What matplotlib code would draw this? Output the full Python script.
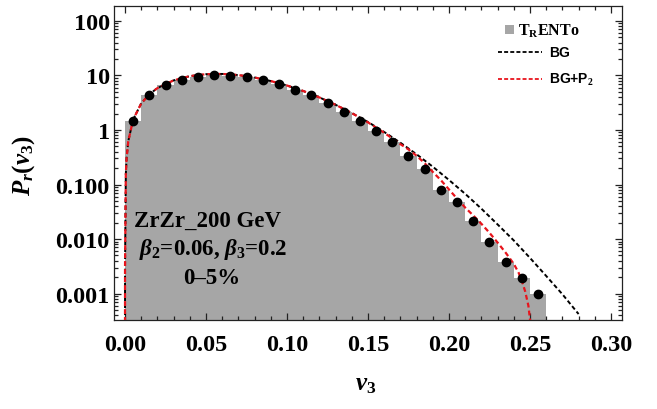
import numpy as np
import matplotlib
matplotlib.use("Agg")
import matplotlib.pyplot as plt
from matplotlib.ticker import FixedLocator, FixedFormatter, NullFormatter
from matplotlib.lines import Line2D
from matplotlib.patches import Rectangle

plt.rcParams['mathtext.fontset'] = 'custom'
plt.rcParams['mathtext.rm'] = 'Liberation Serif:bold'
plt.rcParams['mathtext.it'] = 'Liberation Serif:italic:bold'
plt.rcParams['mathtext.bf'] = 'Liberation Serif:bold'

# ---- data ----
bin_edges = [0.00, 0.01, 0.02, 0.03, 0.04, 0.05, 0.06, 0.07, 0.08, 0.09, 0.10, 0.11, 0.12,
             0.13, 0.14, 0.15, 0.16, 0.17, 0.18, 0.19, 0.20, 0.21, 0.22, 0.23, 0.24, 0.25, 0.26]
trento_vals = [1.45, 4.3, 6.6, 8.3, 9.4, 10.0, 9.8, 9.3, 8.1, 6.9, 5.5, 4.35, 3.15,
               2.15, 1.48, 0.95, 0.59, 0.34, 0.195, 0.079, 0.048, 0.021, 0.0087, 0.0038, 0.00195, 0.00097]

bg_v = [0.000001, 0.00001, 0.0005, 0.001, 0.002, 0.005, 0.01, 0.015, 0.02, 0.03, 0.04, 0.05,
        0.06, 0.07, 0.08, 0.09, 0.10, 0.11, 0.12, 0.13, 0.14, 0.15, 0.16, 0.17, 0.18,
        0.19, 0.20, 0.21, 0.22, 0.23, 0.24, 0.25, 0.26, 0.27, 0.28]
bg_p = [0.0003, 0.0031, 0.156, 0.31, 0.62, 1.55, 3.07, 4.52, 5.87, 8.14, 9.73, 10.57,
        10.68, 10.18, 9.19, 7.91, 6.55, 5.20, 3.96, 2.90, 2.05, 1.40, 0.92, 0.584, 0.358,
        0.212, 0.121, 0.0674, 0.036, 0.0185, 0.0094, 0.0045, 0.0021, 0.00097, 0.00042]

bgp2_v = [0.000001, 0.00001, 0.0005, 0.001, 0.002, 0.005, 0.01, 0.015, 0.02, 0.03, 0.04, 0.05,
          0.06, 0.07, 0.08, 0.09, 0.10, 0.11, 0.12, 0.13, 0.14, 0.15, 0.16, 0.17, 0.175, 0.18,
          0.185, 0.19, 0.195, 0.20, 0.205, 0.21, 0.215, 0.22, 0.225, 0.23, 0.235, 0.24, 0.243,
          0.245, 0.247, 0.249, 0.2502]
bgp2_p = [0.0003, 0.0031, 0.156, 0.31, 0.62, 1.55, 3.07, 4.52, 5.87, 8.14, 9.73, 10.57,
          10.68, 10.18, 9.19, 7.91, 6.55, 5.20, 3.96, 2.90, 2.04, 1.38, 0.89, 0.55, 0.44, 0.337,
          0.245, 0.17, 0.12, 0.081, 0.055, 0.0377, 0.027, 0.019, 0.013, 0.0086, 0.0056, 0.0035,
          0.0024, 0.0017, 0.0011, 0.0006, 0.0003]

ytick_vals = [0.001, 0.01, 0.1, 1, 10, 100]
ytick_labels = ["0.001", "0.010", "0.100", "1", "10", "100"]
xtick_vals = [0.00, 0.05, 0.10, 0.15, 0.20, 0.25, 0.30]
xtick_labels = ["0.00", "0.05", "0.10", "0.15", "0.20", "0.25", "0.30"]

# ---- figure ----
W, H = 657, 410
fig = plt.figure(figsize=(W / 100, H / 100), dpi=100)
L, R, T, B = 114, 622, 7, 321
ax = fig.add_axes([L / W, 1 - B / H, (R - L) / W, (B - T) / H])

gray = '#a6a6a6'
edges = np.array(bin_edges)
vals = np.array(trento_vals)
ax.bar(edges[:-1], vals, width=np.diff(edges), align='edge', color=gray,
       edgecolor='none', linewidth=0, bottom=1e-6, zorder=1)

ax.plot(bg_v, bg_p, color='black', lw=1.4, dashes=(2.2, 1.4), zorder=3)
ax.plot(bgp2_v, bgp2_p, color='#e8141c', lw=1.6, dashes=(2.2, 1.4), zorder=4)

centers = (edges[:-1] + edges[1:]) / 2
ax.plot(centers, vals, 'o', color='black', ms=6, zorder=5)

ax.set_yscale('log')
ax.set_xlim(-0.0068, 0.3068)
ax.set_ylim(10 ** -3.486, 10 ** 2.275)

ax.yaxis.set_major_locator(FixedLocator(ytick_vals))
ax.yaxis.set_major_formatter(FixedFormatter(ytick_labels))
minor_y = [m * 10.0 ** e for e in range(-4, 3) for m in range(2, 10)]
ax.yaxis.set_minor_locator(FixedLocator(minor_y))
ax.yaxis.set_minor_formatter(NullFormatter())
ax.xaxis.set_major_locator(FixedLocator(xtick_vals))
ax.xaxis.set_major_formatter(FixedFormatter(xtick_labels))
ax.xaxis.set_minor_locator(FixedLocator([i * 0.01 for i in range(0, 31)]))

ax.tick_params(which='both', direction='in', top=True, right=True, color='#222222', width=0.9)
ax.tick_params(which='major', length=5)
ax.tick_params(which='minor', length=2.8)
ax.tick_params(axis='x', which='major', pad=10)
ax.tick_params(axis='y', which='major', pad=3)
for lab in ax.get_xticklabels() + ax.get_yticklabels():
    lab.set_fontfamily('Liberation Serif')
    lab.set_fontweight('bold')
    lab.set_fontsize(17.5)
for s in ax.spines.values():
    s.set_linewidth(0.9)
    s.set_color('#222222')

# axis labels
fig.text(366 / W, 1 - 384 / H, r'$v_3$', fontsize=18, ha='center', va='center')
fig.text(24 / W, 1 - 166 / H, r'$P_r\mathrm{(}v_3\mathrm{)}$', fontsize=18, ha='center',
         va='center', rotation=90)

# annotation
txt_kw = dict(fontsize=16.5, ha='center', va='center', family='Liberation Serif', fontweight='bold')
ax.text((208 - L) / (R - L), (B - 221) / (B - T), 'ZrZr_200 GeV', transform=ax.transAxes, **txt_kw)
ax.text((213 - L) / (R - L), (B - 250) / (B - T), r'$\beta_2$=0.06, $\beta_3$=0.2',
        transform=ax.transAxes, **txt_kw)
ax.text((212 - L) / (R - L), (B - 279) / (B - T), '0\u20135%', transform=ax.transAxes, **txt_kw)

# legend (manual)
def ax_xy(px, py):
    return (px - L) / (R - L), (B - py) / (B - T)

x0, y0 = ax_xy(505, 35)
x1, y1 = ax_xy(514, 26)
ax.add_patch(Rectangle((x0, y0), x1 - x0, y1 - y0, transform=ax.transAxes,
                       facecolor=gray, edgecolor='none', zorder=6))
tx, ty = ax_xy(518, 31)
ax.text(tx, ty, r'T$_\mathrm{R}$ENTo', transform=ax.transAxes, fontsize=11.5,
        family='Liberation Serif', fontweight='bold', ha='left', va='center')
for py, col, lab in [(53, 'black', 'BG'), (80, '#e8141c', r'BG+P$_2$')]:
    a, b = ax_xy(498, py)
    c, d = ax_xy(542, py)
    ax.add_line(Line2D([a, c], [b, d], transform=ax.transAxes, color=col, lw=1.3,
                       dashes=(2.2, 1.2), zorder=6))
    lx, ly = ax_xy(549, py)
    ax.text(lx, ly, lab, transform=ax.transAxes, fontsize=10, family='Liberation Sans',
            fontweight='bold', ha='left', va='center')

fig.savefig('out.png', dpi=100)
